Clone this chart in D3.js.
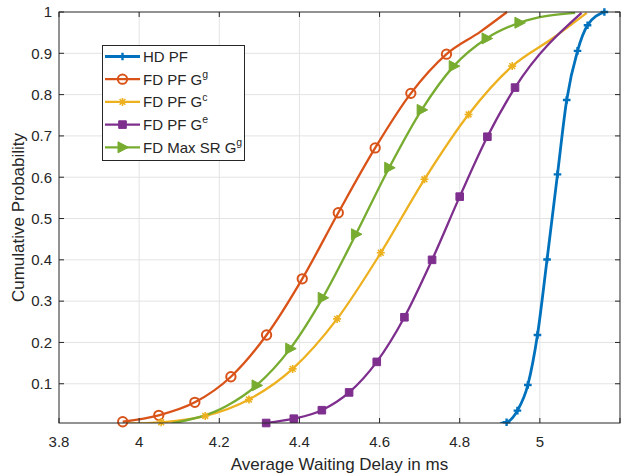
<!DOCTYPE html>
<html><head><meta charset="utf-8">
<script src="https://cdn.jsdelivr.net/npm/d3@7"></script>
<style>
html,body{margin:0;padding:0;background:#fff;}
svg{display:block;font-family:"Liberation Sans",Arial,Helvetica,sans-serif;}
</style></head>
<body><svg id="c" width="621" height="475"></svg>
<script>
// ---- data ----
const xTicks = [3.8, 4, 4.2, 4.4, 4.6, 4.8, 5, 5.2];
const xTickLabels = ["3.8", "4", "4.2", "4.4", "4.6", "4.8", "5", ""];
const yTicks = [0.1, 0.2, 0.3, 0.4, 0.5, 0.6, 0.7, 0.8, 0.9, 1];
const yTickLabels = ["0.1", "0.2", "0.3", "0.4", "0.5", "0.6", "0.7", "0.8", "0.9", "1"];

const hdX  = [4.901, 4.917, 4.944, 4.970, 4.994, 5.018, 5.044, 5.067, 5.094, 5.119, 5.161];
const hdY  = [0.004, 0.0067, 0.035, 0.097, 0.218, 0.401, 0.607, 0.787, 0.906, 0.968, 1.0];
const hdM  = [0, 1, 1, 1, 1, 1, 1, 1, 1, 1, 1];

const fdgX = [3.959, 4.049, 4.139, 4.229, 4.318, 4.407, 4.497, 4.589, 4.678, 4.767, 4.851, 4.918];
const fdgY = [0.008, 0.0236, 0.055, 0.117, 0.218, 0.354, 0.514, 0.671, 0.803, 0.898, 0.952, 1.0];
const fdgM = [1, 1, 1, 1, 1, 1, 1, 1, 1, 1, 0, 0];

const fdcX = [3.969, 4.055, 4.165, 4.274, 4.383, 4.494, 4.603, 4.712, 4.822, 4.931, 5.033, 5.117];
const fdcY = [0.004, 0.0067, 0.022, 0.062, 0.136, 0.257, 0.417, 0.595, 0.752, 0.869, 0.937, 0.998];
const fdcM = [0, 1, 1, 1, 1, 1, 1, 1, 1, 1, 0, 0];

const fdeX = [4.317, 4.386, 4.456, 4.524, 4.593, 4.662, 4.731, 4.800, 4.869, 4.938, 5.104];
const fdeY = [0.005, 0.0154, 0.036, 0.079, 0.153, 0.261, 0.400, 0.553, 0.698, 0.817, 0.998];
const fdeM = [1, 1, 1, 1, 1, 1, 1, 1, 1, 1, 0];

const msrX = [4.081, 4.218, 4.293, 4.377, 4.458, 4.541, 4.624, 4.705, 4.785, 4.867, 4.949, 5.088];
const msrY = [0.004, 0.046, 0.096, 0.185, 0.308, 0.462, 0.623, 0.763, 0.869, 0.936, 0.974, 0.998];
const msrM = [0, 0, 1, 1, 1, 1, 1, 1, 1, 1, 1, 0];

const seriesNames = ["HD PF", "FD PF G", "FD PF G", "FD PF G", "FD Max SR G"];
const seriesSups  = ["", "g", "c", "e", "g"];
const colors = ["#0072BD", "#D95319", "#EDB120", "#7E2F8E", "#77AC30"];
const markers = ["plus", "circle", "star", "square", "triangle"];

const series = [
  {x: hdX, y: hdY, m: hdM},
  {x: fdgX, y: fdgY, m: fdgM},
  {x: fdcX, y: fdcY, m: fdcM},
  {x: fdeX, y: fdeY, m: fdeM},
  {x: msrX, y: msrY, m: msrM}
];

// ---- layout ----
const L = 59, R = 620, T = 12, B = 423;
const svg = d3.select("#c");
const x = d3.scaleLinear().domain([3.8, 5.2]).range([L, R]);
const y = d3.scaleLinear().domain([0.005, 1]).range([B, T]);
const axisCol = "#262626";

// grid
const g = svg.append("g");
g.selectAll("line.gx").data(xTicks.slice(1, -1)).join("line")
  .attr("x1", d => x(d)).attr("x2", d => x(d)).attr("y1", T).attr("y2", B)
  .attr("stroke", "#e3e3e3").attr("stroke-width", 1);
g.selectAll("line.gy").data(yTicks.slice(0, -1)).join("line")
  .attr("x1", L).attr("x2", R).attr("y1", d => y(d)).attr("y2", d => y(d))
  .attr("stroke", "#e3e3e3").attr("stroke-width", 1);

// curves
const lineGen = d3.line().x(d => x(d[0])).y(d => y(d[1])).curve(d3.curveMonotoneX);
svg.append("clipPath").attr("id", "pa").append("rect")
  .attr("x", L).attr("y", T - 3).attr("width", R - L).attr("height", B - T + 3);

function markerPath(type) {
  if (type === "plus") return "M-3.8,0H3.8M0,-3.8V3.8";
  if (type === "star") return "M-4,0H4M0,-4V4M-2.9,-2.9L2.9,2.9M-2.9,2.9L2.9,-2.9";
  if (type === "circle") return d3.symbol(d3.symbolCircle, 68)();
  if (type === "square") return "M-3.8,-3.8H3.8V3.8H-3.8Z";
  if (type === "triangle") return "M-4.5,-5.5L6,0L-4.5,5.5Z";
}
function styleMarker(sel, i) {
  const t = markers[i];
  if (t === "plus" || t === "star") {
    sel.attr("fill", "none").attr("stroke", colors[i]).attr("stroke-width", t === "plus" ? 2.4 : 1.6);
  } else if (t === "circle") {
    sel.attr("fill", "none").attr("stroke", colors[i]).attr("stroke-width", 2);
  } else {
    sel.attr("fill", colors[i]).attr("stroke", colors[i]).attr("stroke-width", 1);
  }
}

const plot = svg.append("g").attr("clip-path", "url(#pa)");
series.forEach((s, i) => {
  const pts = s.x.map((v, k) => [v, s.y[k], s.m[k]]);
  plot.append("path").datum(pts).attr("d", lineGen)
    .attr("fill", "none").attr("stroke", colors[i])
    .attr("stroke-width", i === 0 ? 2.8 : 2.3).attr("stroke-linejoin", "round");
  const mk = svg.append("g");
  mk.selectAll("path").data(pts.filter(p => p[2] === 1)).join("path")
    .attr("transform", p => `translate(${x(p[0])},${y(p[1])})`)
    .attr("d", markerPath(markers[i]))
    .call(sel => styleMarker(sel, i));
});

// axes box
const ax = svg.append("g");
ax.append("rect").attr("x", L).attr("y", T).attr("width", R - L).attr("height", B - T)
  .attr("fill", "none").attr("stroke", axisCol).attr("stroke-width", 1);
ax.selectAll("line.xb").data(xTicks).join("line")
  .attr("x1", d => x(d)).attr("x2", d => x(d)).attr("y1", B).attr("y2", B - 5)
  .attr("stroke", axisCol);
ax.selectAll("line.xt").data(xTicks).join("line")
  .attr("x1", d => x(d)).attr("x2", d => x(d)).attr("y1", T).attr("y2", T + 5)
  .attr("stroke", axisCol);
ax.selectAll("line.yl").data(yTicks).join("line")
  .attr("x1", L).attr("x2", L + 5).attr("y1", d => y(d)).attr("y2", d => y(d))
  .attr("stroke", axisCol);
ax.selectAll("line.yr").data(yTicks).join("line")
  .attr("x1", R).attr("x2", R - 5).attr("y1", d => y(d)).attr("y2", d => y(d))
  .attr("stroke", axisCol);
ax.selectAll("text.xl").data(xTicks).join("text")
  .attr("x", d => x(d)).attr("y", 446.5).attr("text-anchor", "middle")
  .attr("font-size", 15).attr("fill", axisCol).text((d, k) => xTickLabels[k]);
ax.selectAll("text.yl").data(yTicks).join("text")
  .attr("x", 52).attr("y", d => y(d) + 5.3).attr("text-anchor", "end")
  .attr("font-size", 15).attr("fill", axisCol).text((d, k) => yTickLabels[k]);
svg.append("text").attr("x", (L + R) / 2).attr("y", 469.5).attr("text-anchor", "middle")
  .attr("font-size", 17).attr("fill", axisCol).text("Average Waiting Delay in ms");
svg.append("text").attr("transform", `translate(24,${(T + B) / 2}) rotate(-90)`)
  .attr("text-anchor", "middle").attr("font-size", 17).attr("fill", axisCol)
  .text("Cumulative Probability");

// legend
const lg = svg.append("g");
lg.append("rect").attr("x", 102.5).attr("y", 45.5).attr("width", 142).attr("height", 115)
  .attr("fill", "#fff").attr("stroke", "#262626").attr("stroke-width", 1);
seriesNames.forEach((name, i) => {
  const yy = 56.5 + i * 22.7;
  lg.append("line").attr("x1", 105).attr("x2", 140).attr("y1", yy).attr("y2", yy)
    .attr("stroke", colors[i]).attr("stroke-width", i === 0 ? 2.8 : 2.3);
  lg.append("path").attr("transform", `translate(122.5,${yy})`).attr("d", markerPath(markers[i]))
    .call(sel => styleMarker(sel, i));
  const t = lg.append("text").attr("x", 143).attr("y", yy + 5.3).attr("font-size", 15).attr("fill", axisCol);
  t.append("tspan").text(name);
  if (seriesSups[i]) t.append("tspan").attr("font-size", 10.5).attr("dy", -6.5).text(seriesSups[i]);
});
</script></body></html>
